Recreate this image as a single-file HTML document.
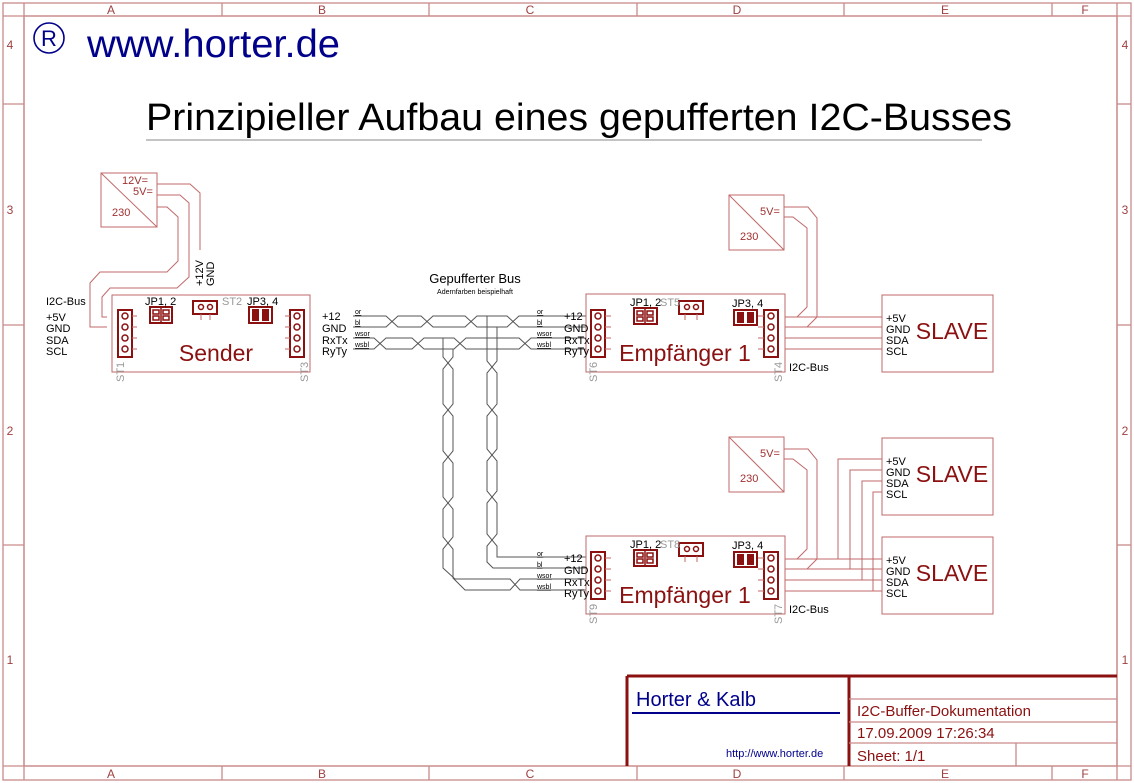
<!DOCTYPE html>
<html><head><meta charset="utf-8"><style>
html,body{margin:0;padding:0;background:#fff;}
svg{display:block;}
text{font-family:"Liberation Sans",sans-serif;}
.fr{fill:none;stroke:#c98a8a;stroke-width:1.3}
.fl{fill:#a04040;font-size:12px;font-family:"Liberation Mono",monospace}
.c{fill:none;stroke:#c06a6a;stroke-width:1}
.dk{fill:none;stroke:#8b1010;stroke-width:2}
.w{fill:none;stroke:#555;stroke-width:1}
.lb{fill:#000;font-size:11px}
.sm{fill:#000;font-size:7px;text-decoration:underline}
.big{fill:#8b1010;font-size:23px}
.gr{fill:#999;font-size:11px}
.rt{fill:#a03030;font-size:11px}
</style></head><body>
<svg width="1134" height="783" viewBox="0 0 1134 783" xmlns="http://www.w3.org/2000/svg">
<rect x="3" y="3" width="1128" height="777" class="fr"/>
<rect x="24" y="16" width="1093" height="750" class="fr"/>
<line x1="3" y1="16" x2="1131" y2="16" class="fr"/>
<line x1="3" y1="766" x2="1131" y2="766" class="fr"/>
<line x1="24" y1="3" x2="24" y2="780" class="fr"/>
<line x1="1117" y1="3" x2="1117" y2="780" class="fr"/>
<g class="fr">
<line x1="222" y1="3" x2="222" y2="16"/><line x1="429" y1="3" x2="429" y2="16"/><line x1="637" y1="3" x2="637" y2="16"/><line x1="844" y1="3" x2="844" y2="16"/><line x1="1052" y1="3" x2="1052" y2="16"/>
<line x1="222" y1="766" x2="222" y2="780"/><line x1="429" y1="766" x2="429" y2="780"/><line x1="637" y1="766" x2="637" y2="780"/><line x1="844" y1="766" x2="844" y2="780"/><line x1="1052" y1="766" x2="1052" y2="780"/>
<line x1="3" y1="104" x2="24" y2="104"/><line x1="3" y1="325" x2="24" y2="325"/><line x1="3" y1="545" x2="24" y2="545"/>
<line x1="1117" y1="104" x2="1131" y2="104"/><line x1="1117" y1="325" x2="1131" y2="325"/><line x1="1117" y1="545" x2="1131" y2="545"/>
</g>
<g class="fl" text-anchor="middle">
<text x="111" y="14">A</text><text x="322" y="14">B</text><text x="530" y="14">C</text><text x="737" y="14">D</text><text x="945" y="14">E</text><text x="1085" y="14">F</text>
<text x="111" y="778">A</text><text x="322" y="778">B</text><text x="530" y="778">C</text><text x="737" y="778">D</text><text x="945" y="778">E</text><text x="1085" y="778">F</text>
<text x="10" y="49">4</text><text x="10" y="214">3</text><text x="10" y="435">2</text><text x="10" y="664">1</text>
<text x="1125" y="49">4</text><text x="1125" y="214">3</text><text x="1125" y="435">2</text><text x="1125" y="664">1</text>
</g>
<circle cx="49" cy="38" r="15" fill="none" stroke="#00008b" stroke-width="1.6"/>
<text x="49" y="46" text-anchor="middle" style="fill:#00008b;font-size:22px">R</text>
<text x="87" y="57" textLength="253" lengthAdjust="spacingAndGlyphs" style="fill:#00008b;font-size:39px">www.horter.de</text>
<text x="146" y="130" textLength="866" lengthAdjust="spacingAndGlyphs" style="fill:#000;font-size:38px">Prinzipieller Aufbau eines gepufferten I2C-Busses</text>
<line x1="146" y1="140" x2="982" y2="140" stroke="#888" stroke-width="1"/>

<rect x="101" y="173" width="56" height="54" class="c"/>
<line x1="101" y1="173" x2="157" y2="227" class="c"/>
<text x="122" y="184" class="rt">12V=</text><text x="133" y="195" class="rt">5V=</text><text x="112" y="216" class="rt">230</text>
<path class="c" d="M157,184 H190 L200,193 V250"/>
<path class="c" d="M157,195 H180 L189,203 V277 L177,288 H110 L102,297 V317 H107"/>
<path class="c" d="M157,207 H167 L178,217 V261 L167,272 H100 L90,283 V327 H107"/>
<text transform="translate(203,286) rotate(-90)" class="lb">+12V</text>
<text transform="translate(214,286) rotate(-90)" class="lb">GND</text>
<text x="46" y="305" class="lb">I2C-Bus</text>
<text x="46" y="321" class="lb">+5V</text><text x="46" y="332" class="lb">GND</text><text x="46" y="344" class="lb">SDA</text><text x="46" y="355" class="lb">SCL</text>

<rect x="112" y="295" width="198" height="77" class="c"/>
<g class="dk">
<rect x="118" y="310" width="14" height="47"/>
<rect x="290" y="310" width="14" height="47"/>
<rect x="150" y="307" width="22" height="16"/>
<rect x="193" y="301" width="24" height="13"/>
<rect x="249" y="307" width="23" height="16"/>
</g>
<g fill="none" stroke="#8b1010" stroke-width="1.5">
<circle cx="125" cy="316" r="3"/><circle cx="125" cy="327" r="3"/><circle cx="125" cy="338" r="3"/><circle cx="125" cy="349" r="3"/>
<circle cx="297" cy="316" r="3"/><circle cx="297" cy="327" r="3"/><circle cx="297" cy="338" r="3"/><circle cx="297" cy="349" r="3"/>
<circle cx="201" cy="307" r="2.5"/><circle cx="210" cy="307" r="2.5"/>
<rect x="153" y="310" width="6" height="4"/><rect x="153" y="316" width="6" height="4"/><rect x="163" y="310" width="6" height="4"/><rect x="163" y="316" width="6" height="4"/>
<line x1="161" y1="307" x2="161" y2="323"/>
</g>
<rect x="252" y="309" width="7" height="12" fill="#8b1010"/><rect x="262" y="309" width="7" height="12" fill="#8b1010"/>
<g class="c"><line x1="132" y1="316" x2="137" y2="316"/><line x1="132" y1="327" x2="137" y2="327"/><line x1="132" y1="338" x2="137" y2="338"/><line x1="132" y1="349" x2="137" y2="349"/>
<line x1="285" y1="316" x2="290" y2="316"/><line x1="285" y1="327" x2="290" y2="327"/><line x1="285" y1="338" x2="290" y2="338"/><line x1="285" y1="349" x2="290" y2="349"/>
<line x1="201" y1="314" x2="201" y2="320"/><line x1="210" y1="314" x2="210" y2="320"/></g>
<text x="145" y="305" class="lb">JP1, 2</text><text x="222" y="305" class="gr">ST2</text><text x="247" y="305" class="lb">JP3, 4</text>
<text x="216" y="361" text-anchor="middle" class="big">Sender</text>
<text transform="translate(124,382) rotate(-90)" class="gr">ST1</text>
<text transform="translate(308,382) rotate(-90)" class="gr">ST3</text>
<text x="322" y="320" class="lb">+12</text><text x="322" y="332" class="lb">GND</text><text x="322" y="344" class="lb">RxTx</text><text x="322" y="355" class="lb">RyTy</text>

<text x="475" y="283" text-anchor="middle" style="font-size:13px;fill:#000">Gepufferter Bus</text>
<text x="475" y="294" text-anchor="middle" style="font-size:7px;fill:#000">Adernfarben beispielhaft</text>
<text x="355" y="314" class="sm">or</text><text x="355" y="325" class="sm">bl</text><text x="355" y="336" class="sm">wsor</text><text x="355" y="347" class="sm">wsbl</text>
<text x="537" y="314" class="sm">or</text><text x="537" y="325" class="sm">bl</text><text x="537" y="336" class="sm">wsor</text><text x="537" y="347" class="sm">wsbl</text>
<text x="537" y="556" class="sm">or</text><text x="537" y="567" class="sm">bl</text><text x="537" y="578" class="sm">wsor</text><text x="537" y="589" class="sm">wsbl</text>
<g class="w">
<path d="M353,316 H386 L398,327 H421 L433,316 H465 L477,327 H507 L519,316 H586"/>
<path d="M353,327 H386 L398,316 H421 L433,327 H465 L477,316 H507 L519,327 H586"/>
<path d="M353,338 H374 L386,349 H412 L424,338 H454 L466,349 H519 L531,338 H586"/>
<path d="M353,349 H374 L386,338 H412 L424,349 H454 L466,338 H519 L531,349 H586"/>
<path d="M443,338 V357 L453,369 V404 L443,416 V451 L453,463 V497 L443,509 V537 L453,549 V578 L465,590 H510 L520,579 H586"/>
<path d="M453,349 V357 L443,369 V404 L453,416 V451 L443,463 V497 L453,509 V537 L443,549 V568 L455,579 H510 L520,590 H586"/>
<path d="M487,316 V361 L497,373 V404 L487,416 V449 L497,461 V491 L487,503 V534 L497,546 V557 H586"/>
<path d="M497,327 V361 L487,373 V404 L497,416 V449 L487,461 V491 L497,503 V534 L487,546 V562 L493,568 H586"/>
</g>

<defs>
<g id="rx">
<rect x="586" y="294" width="199" height="78" class="c"/>
<g class="dk">
<rect x="591" y="310" width="14" height="47"/>
<rect x="764" y="310" width="14" height="47"/>
<rect x="634" y="308" width="23" height="16"/>
<rect x="679" y="301" width="24" height="13"/>
<rect x="734" y="310" width="23" height="15"/>
</g>
<g fill="none" stroke="#8b1010" stroke-width="1.5">
<circle cx="598" cy="316" r="3"/><circle cx="598" cy="327" r="3"/><circle cx="598" cy="338" r="3"/><circle cx="598" cy="349" r="3"/>
<circle cx="771" cy="316" r="3"/><circle cx="771" cy="327" r="3"/><circle cx="771" cy="338" r="3"/><circle cx="771" cy="349" r="3"/>
<circle cx="687" cy="307" r="2.5"/><circle cx="696" cy="307" r="2.5"/>
<rect x="637" y="311" width="6" height="4"/><rect x="637" y="317" width="6" height="4"/><rect x="647" y="311" width="6" height="4"/><rect x="647" y="317" width="6" height="4"/>
<line x1="645" y1="308" x2="645" y2="324"/>
</g>
<rect x="737" y="312" width="7" height="11" fill="#8b1010"/><rect x="747" y="312" width="7" height="11" fill="#8b1010"/>
<g class="c"><line x1="605" y1="316" x2="611" y2="316"/><line x1="605" y1="327" x2="611" y2="327"/><line x1="605" y1="338" x2="611" y2="338"/><line x1="605" y1="349" x2="611" y2="349"/>
<line x1="758" y1="316" x2="764" y2="316"/><line x1="758" y1="327" x2="764" y2="327"/><line x1="758" y1="338" x2="764" y2="338"/><line x1="758" y1="349" x2="764" y2="349"/>
<line x1="685" y1="314" x2="685" y2="320"/><line x1="697" y1="314" x2="697" y2="320"/></g>
<text x="630" y="306" class="lb">JP1, 2</text><text x="732" y="307" class="lb">JP3, 4</text>
<text x="685" y="361" text-anchor="middle" class="big">Empfänger 1</text>
<text x="564" y="320" class="lb">+12</text><text x="564" y="332" class="lb">GND</text><text x="564" y="344" class="lb">RxTx</text><text x="564" y="355" class="lb">RyTy</text>
<text x="789" y="371" class="lb">I2C-Bus</text>
<rect x="729" y="195" width="55" height="55" class="c"/>
<line x1="729" y1="195" x2="784" y2="250" class="c"/>
<text x="760" y="215" class="rt">5V=</text><text x="740" y="240" class="rt">230</text>
<path class="c" d="M784,207 H808 L817,218 V317 L807,327"/>
<path class="c" d="M784,217 H793 L807,228 V307 L797,317"/>
<g class="c"><line x1="785" y1="317" x2="882" y2="317"/><line x1="785" y1="327" x2="882" y2="327"/><line x1="785" y1="338" x2="882" y2="338"/><line x1="785" y1="349" x2="882" y2="349"/></g>
</g>
<g id="slave">
<rect x="882" y="295" width="111" height="77" class="c"/>
<text x="886" y="322" class="lb">+5V</text><text x="886" y="333" class="lb">GND</text><text x="886" y="344" class="lb">SDA</text><text x="886" y="355" class="lb">SCL</text>
<text x="952" y="339" text-anchor="middle" style="fill:#8b1010;font-size:23px">SLAVE</text>
</g>
</defs>
<use href="#rx"/>
<text x="660" y="306" class="gr">ST5</text>
<text transform="translate(597,382) rotate(-90)" class="gr">ST6</text>
<text transform="translate(782,382) rotate(-90)" class="gr">ST4</text>
<use href="#slave"/>

<use href="#rx" transform="translate(0,242)"/>
<text x="660" y="548" class="gr">ST8</text>
<text transform="translate(597,624) rotate(-90)" class="gr">ST9</text>
<text transform="translate(782,624) rotate(-90)" class="gr">ST7</text>
<use href="#slave" transform="translate(0,242)"/>
<use href="#slave" transform="translate(0,143)"/>
<g class="c">
<path d="M838,559 V459 H882"/><path d="M850,569 V470 H882"/><path d="M862,580 V481 H882"/><path d="M873,591 V492 H882"/>
</g>

<g fill="none" stroke="#8b1010" stroke-width="3">
<line x1="627" y1="676" x2="1117" y2="676"/>
<line x1="627" y1="676" x2="627" y2="766"/>
<line x1="849" y1="676" x2="849" y2="766"/>
</g>
<g class="fr">
<line x1="849" y1="699" x2="1117" y2="699"/><line x1="849" y1="722" x2="1117" y2="722"/><line x1="849" y1="743" x2="1117" y2="743"/><line x1="1016" y1="743" x2="1016" y2="766"/>
</g>
<text x="636" y="706" style="fill:#00008b;font-size:20px">Horter &amp; Kalb</text>
<line x1="632" y1="713" x2="840" y2="713" stroke="#00008b" stroke-width="2"/>
<text x="726" y="757" style="fill:#00008b;font-size:11px">http://www.horter.de</text>
<g style="fill:#8b1010;font-size:15px;font-family:'Liberation Mono',monospace">
<text x="857" y="716">I2C-Buffer-Dokumentation</text>
<text x="857" y="738">17.09.2009 17:26:34</text>
<text x="857" y="761">Sheet: 1/1</text>
</g>
</svg>
</body></html>
